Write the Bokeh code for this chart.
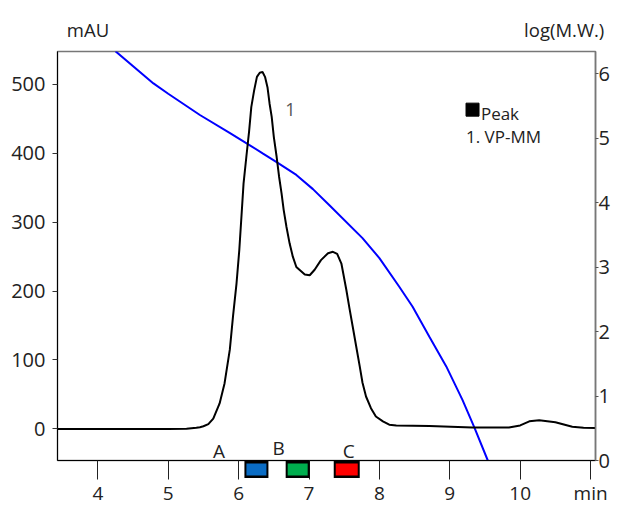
from bokeh.plotting import figure
from bokeh.models import Range1d, LinearAxis, Label, FixedTicker
from bokeh.embed import file_html
from bokeh.resources import INLINE

# ---- data ----
time_min = [3.43, 4.0, 5.0, 5.26, 5.40, 5.45, 5.50, 5.57, 5.64, 5.73, 5.80, 5.875, 5.92, 5.97,
            6.01, 6.04, 6.07, 6.11, 6.15, 6.18, 6.22, 6.26, 6.30, 6.34, 6.375, 6.41, 6.44,
            6.47, 6.50, 6.54, 6.575, 6.61, 6.64, 6.68, 6.725, 6.77, 6.82, 6.94, 7.01,
            7.08, 7.17, 7.27, 7.34, 7.40, 7.46, 7.53, 7.575, 7.62, 7.67, 7.72, 7.76,
            7.81, 7.88, 7.95, 8.05, 8.14, 8.24, 8.71, 9.32, 9.84, 10.0, 10.13, 10.27,
            10.5, 10.74, 10.9, 11.07]
absorb_mau = [0, 0, 0, 0.3, 1.5, 2.5, 3.8, 7, 15, 37, 66, 115, 163, 211,
              260, 308, 356, 395, 433, 467, 491, 511, 517, 518, 511, 496, 472,
              453, 424, 395, 366, 342, 318, 293, 269, 250, 235, 224, 223,
              231, 245, 255, 257, 254, 240, 202, 175, 149, 120, 91, 67,
              47, 30, 18, 11, 6, 5, 4, 2, 2, 5, 11, 12.5,
              9.6, 3, 1.5, 1.4]

cal_time = [4.25, 4.79, 5.0, 5.45, 5.878, 6.16, 6.347, 6.551, 6.82, 7.056, 7.29, 7.76,
            8.00, 8.28, 8.47, 8.71, 8.95, 9.18, 9.35, 9.54]
cal_logmw = [6.35, 5.85, 5.69, 5.36, 5.08, 4.89, 4.76, 4.62, 4.43, 4.21, 3.96, 3.45,
             3.14, 2.70, 2.39, 1.92, 1.46, 0.94, 0.51, 0.0]

x_ticks = [4, 5, 6, 7, 8, 9, 10, 11]
x_tick_labels = {11: "min"}
left_ticks = [0, 100, 200, 300, 400, 500]
right_ticks = [0, 1, 2, 3, 4, 5, 6]

fraction_names = ["A", "B", "C"]
fraction_label_x = [5.722, 6.569, 7.566]
fraction_label_y = [-32.4, -27.5, -31.4]
fraction_box_x = [6.253, 6.839, 7.536]
fraction_box_y = [-58.9, -58.9, -58.9]
fraction_colors = ["#0a6cc4", "#00ad4e", "#ff0000"]

peak_label = "1"
peak_label_x = 6.735
peak_label_y = 463.4
legend_marker_x = 9.323
legend_marker_y = 463.4
legend_title = "Peak"
legend_entry = "1. VP-MM"

FONT = "Open Sans"

p = figure(width=612, height=508, output_backend="svg", toolbar_location=None,
           x_range=Range1d(3.427, 11.07), y_range=Range1d(-45.9, 547.8),
           min_border_left=57, min_border_right=15, min_border_top=51, min_border_bottom=47)
p.extra_y_ranges = {"mw": Range1d(0, 6.345)}
p.xgrid.visible = False
p.ygrid.visible = False
p.outline_line_color = "#777777"
p.outline_line_width = 1.5
p.background_fill_color = "white"
p.border_fill_color = "white"

ya = p.yaxis[0]
ya.ticker = FixedTicker(ticks=left_ticks)
ya.major_tick_out = 5
ya.major_tick_in = 0
ya.minor_tick_out = 0
ya.minor_tick_in = 0
ya.major_label_standoff = 7
ya.major_label_text_font = FONT
ya.major_label_text_font_size = "20px"
ya.major_label_text_color = "#222222"
ya.axis_line_color = "black"
ya.major_tick_line_color = "#333333"

xa = p.xaxis[0]
xa.ticker = FixedTicker(ticks=x_ticks)
xa.major_label_overrides = x_tick_labels
xa.major_tick_out = 19
xa.major_tick_in = 0
xa.minor_tick_out = 0
xa.minor_tick_in = 0
xa.major_label_standoff = 0
xa.major_label_text_font = FONT
xa.major_label_text_font_size = "19px"
xa.major_label_text_color = "#222222"
xa.axis_line_color = "black"
xa.major_tick_line_color = "#222222"

ra = LinearAxis(y_range_name="mw", ticker=FixedTicker(ticks=right_ticks))
ra.major_tick_out = 3
ra.major_tick_in = 0
ra.minor_tick_out = 0
ra.minor_tick_in = 0
ra.major_label_standoff = 0
ra.major_label_text_font = FONT
ra.major_label_text_font_size = "20px"
ra.major_label_text_color = "#222222"
ra.axis_line_color = "#777777"
ra.axis_line_width = 1.5
ra.major_tick_line_color = "#555555"
p.add_layout(ra, "right")

p.line(cal_time, cal_logmw, y_range_name="mw", line_color="#0000ff", line_width=2)
p.line(time_min, absorb_mau, line_color="black", line_width=2)

# axis unit texts: labels in the top side panel (not clipped to the frame)
p.add_layout(Label(x=3.56, y=579.2, text="mAU", text_font=FONT,
                   text_font_size="18.5px", text_color="#222222", text_baseline="alphabetic",
                   text_align="left"), "above")
p.add_layout(Label(x=10.056, y=580.4, text="log(M.W.)", text_font=FONT,
                   text_font_size="18.5px", text_color="#222222", text_baseline="alphabetic",
                   text_align="left"), "above")

p.add_layout(Label(x=peak_label_x, y=peak_label_y, text=peak_label, text_font=FONT,
                   text_font_size="18px", text_color="#555555", text_align="center",
                   text_baseline="alphabetic"))
p.scatter([legend_marker_x], [legend_marker_y], marker="square", size=13,
          fill_color="black", line_color="black")
p.add_layout(Label(x=9.442, y=457.6, text=legend_title, text_font=FONT, text_font_size="17px",
                   text_color="#222222", text_align="left", text_baseline="alphabetic"))
p.add_layout(Label(x=9.23, y=423.7, text=legend_entry, text_font=FONT, text_font_size="17px",
                   text_color="#222222", text_align="left", text_baseline="alphabetic"))

for name, lx, ly, bx, by, col in zip(fraction_names, fraction_label_x, fraction_label_y,
                                      fraction_box_x, fraction_box_y, fraction_colors):
    p.add_layout(Label(x=lx, y=ly, text=name, text_font=FONT, text_font_size="19px",
                       text_color="#222222", text_align="center", text_baseline="alphabetic"))
    wide = 13 if col == "#ff0000" else 12
    # flat boxes drawn by a thick border: black outline then the colour
    p.add_layout(Label(x=bx, y=by, text=" ", text_font_size="0px", anchor="center",
                       padding=(wide, 0), border_line_color="black",
                       border_line_width=17), "below")
    p.add_layout(Label(x=bx, y=by, text=" ", text_font_size="0px", anchor="center",
                       padding=(wide - 2, 0), border_line_color=col,
                       border_line_width=12), "below")

open("out.html", "w").write(file_html(p, INLINE))
